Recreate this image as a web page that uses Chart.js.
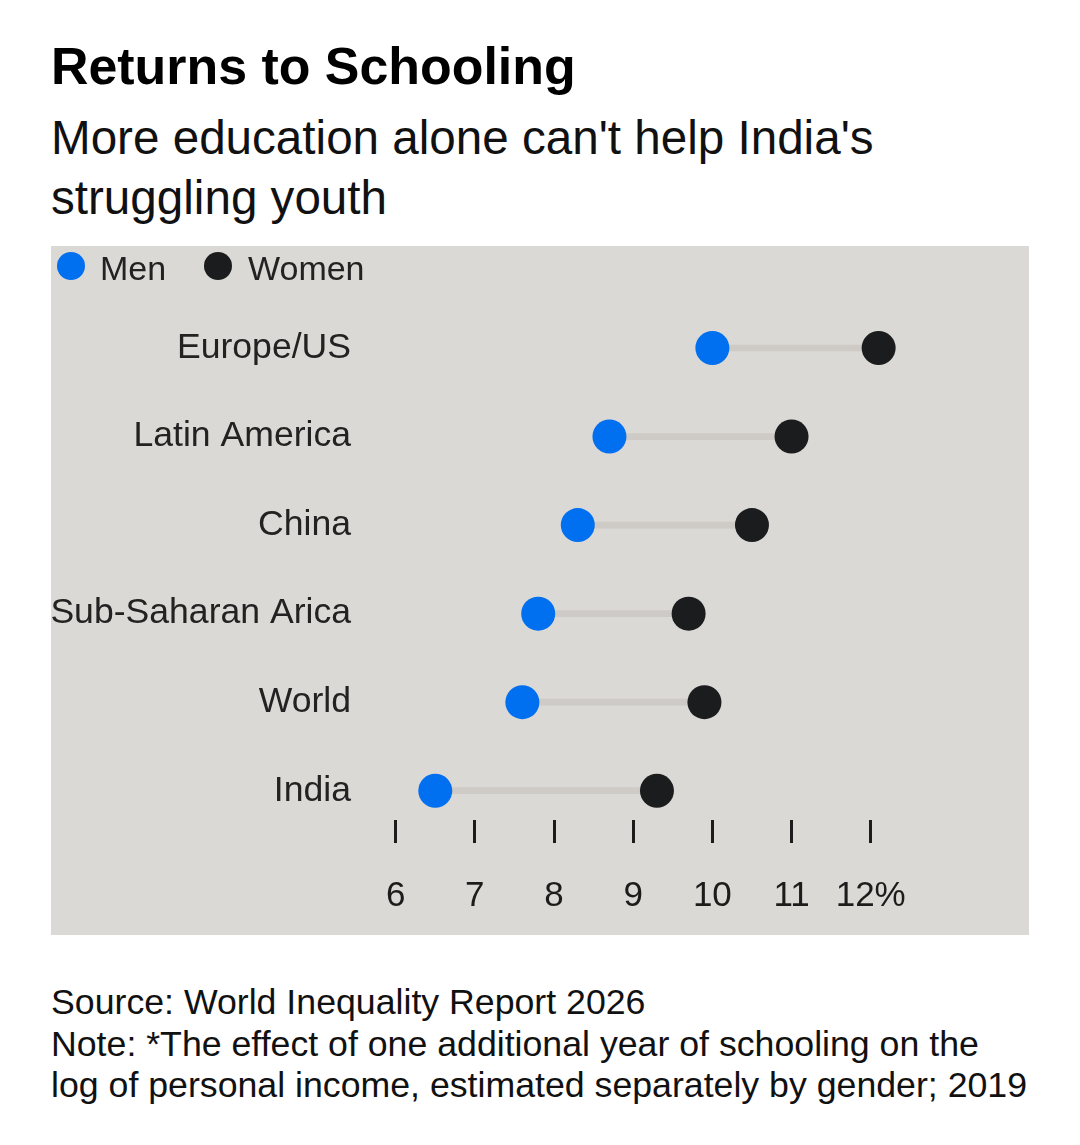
<!DOCTYPE html>
<html>
<head>
<meta charset="utf-8">
<script src="https://cdn.jsdelivr.net/npm/chart.js@4.4.1/dist/chart.umd.min.js"></script>
<style>
  body { margin: 0; background: #fff; font-family: "Liberation Sans", Arial, sans-serif; }
  .page { position: relative; width: 1080px; height: 1145px; }
  .title { position: absolute; left: 51px; top: 37px; font-size: 51.9px; font-weight: bold; line-height: 58px; color: #000; white-space: nowrap; }
  .subtitle { position: absolute; left: 51px; top: 108px; font-size: 47.6px; line-height: 60px; color: #111; white-space: nowrap; }
  .panel { position: absolute; left: 51px; top: 246px; width: 978px; height: 689px; background: #dbd9d5; }
  .legend { position: absolute; left: 0; top: 0; font-size: 34px; color: #222; }
  .legend span { position: absolute; top: 2px; white-space: nowrap; line-height: 40px; }
  .legend i { position: absolute; width: 28px; height: 28px; border-radius: 50%; top: 6px; }
  .footer { position: absolute; left: 51px; top: 982px; font-size: 35.7px; line-height: 41.5px; color: #111; white-space: nowrap; }
</style>
</head>
<body>
<div class="page">
  <div class="title">Returns to Schooling</div>
  <div class="subtitle">More education alone can't help India's<br>struggling youth</div>
  <div class="panel">
    <canvas id="chart"></canvas>
    <div class="legend" id="legend"></div>
  </div>
  <div class="footer">Source: World Inequality Report 2026<br>Note: *The effect of one additional year of schooling on the<br>log of personal income, estimated separately by gender; 2019</div>
</div>

<script>
// du lieu doc tu hinh
const regions = ["Europe/US", "Latin America", "China", "Sub-Saharan Arica", "World", "India"];
const menValues = [10.0, 8.7, 8.3, 7.8, 7.6, 6.5];
const womenValues = [12.1, 11.0, 10.5, 9.7, 9.9, 9.3];
const tickValues = [6, 7, 8, 9, 10, 11, 12];

const blue = "#006ff0";
const black = "#1b1c1e";

// legend html
const legend = document.getElementById("legend");
legend.innerHTML = `
  <i style="left:6px;background:${blue}"></i><span style="left:49px">Men</span>
  <i style="left:153px;background:${black}"></i><span style="left:197px">Women</span>`;

const ctx = document.getElementById("chart").getContext("2d");
new Chart(ctx, {
  type: "bar",
  data: {
    datasets: [
      {
        type: "scatter",
        label: "Men",
        data: regions.map((r, i) => ({ x: menValues[i], y: i })),
        backgroundColor: blue,
        borderWidth: 0,
        pointRadius: 17,
        pointHoverRadius: 17,
        order: 1
      },
      {
        type: "scatter",
        label: "Women",
        data: regions.map((r, i) => ({ x: womenValues[i], y: i })),
        backgroundColor: black,
        borderWidth: 0,
        pointRadius: 17,
        pointHoverRadius: 17,
        order: 1
      },
      {
        type: "bar",
        label: "gap",
        indexAxis: "y",
        data: regions.map((r, i) => ({ y: i, x: [menValues[i], womenValues[i]] })),
        backgroundColor: "#cecac6",
        barThickness: 6,
        borderWidth: 0,
        order: 2
      }
    ]
  },
  options: {
    responsive: true,
    maintainAspectRatio: false,
    animation: false,
    indexAxis: "y",
    layout: { padding: { top: 40, right: 40, left: 0, bottom: 0 } },
    plugins: {
      legend: { display: false },
      tooltip: { enabled: false }
    },
    scales: {
      x: {
        type: "linear",
        position: "bottom",
        min: 5.562,
        max: 13.494,
        offset: false,
        afterBuildTicks: scale => { scale.ticks = tickValues.map(v => ({ value: v })); },
        afterFit: scale => { scale.height = 115; },
        grid: {
          display: true,
          offset: false,
          drawOnChartArea: false,
          drawTicks: true,
          tickLength: 23,
          tickWidth: 3,
          tickColor: "#1c1c1c"
        },
        border: { display: false },
        ticks: {
          padding: 32,
          color: "#1c1c1c",
          font: { family: "Liberation Sans", size: 35 },
          maxRotation: 0,
          autoSkip: false,
          callback: v => (v === 12 ? "12%" : String(v))
        }
      },
      y: {
        type: "linear",
        position: "left",
        reverse: true,
        offset: false,
        min: -0.7006,
        max: 5.331,
        afterBuildTicks: scale => { scale.ticks = regions.map((r, i) => ({ value: i })); },
        afterFit: scale => { scale.width = 310; },
        grid: { display: false, offset: false, drawTicks: false },
        border: { display: false },
        ticks: {
          padding: 10,
          color: "#222",
          font: { family: "Liberation Sans", size: 35.6 },
          autoSkip: false,
          callback: v => regions[v] ?? ""
        }
      }
    }
  }
});
</script>
</body>
</html>
